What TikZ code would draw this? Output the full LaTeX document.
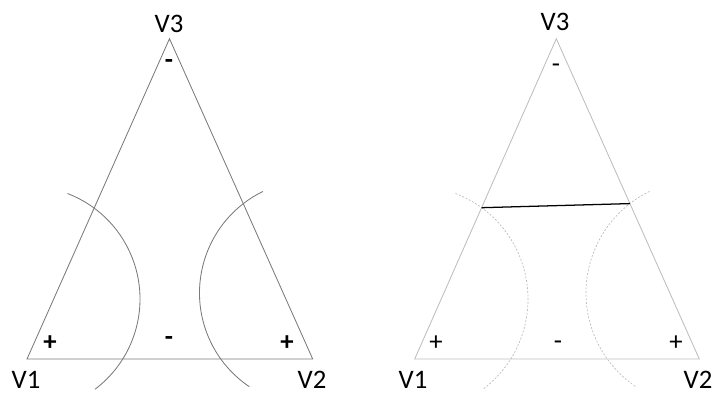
\documentclass[tikz,border=0pt]{standalone}
\usepackage{fontspec}
\setmainfont{Carlito}
\usetikzlibrary{positioning}
\definecolor{EdgeDark}{HTML}{7A7A7A}
\definecolor{EdgeLight}{HTML}{BDBDBD}

\begin{document}
\begin{tikzpicture}[
  x=0.025cm,y=-0.025cm,
  font=\fontsize{19}{22}\selectfont,
  lbl/.style={inner sep=0pt},
  sgn/.style={inner sep=0pt,font=\fontsize{19}{22}\selectfont\bfseries},
  sgnl/.style={inner sep=0pt},
  side/.style={draw=EdgeDark,line width=0.6pt},
  sidel/.style={draw=EdgeLight,line width=0.6pt},
  bow/.style={draw=EdgeDark,line width=0.6pt},
  bowl/.style={draw=EdgeLight,line width=0.5pt,dash pattern=on 1.4pt off 1.2pt},
  cut/.style={draw=black,line width=0.9pt},
]
\useasboundingbox (0,0) rectangle (712,393);

% left triangle
\coordinate (la) at (27,359);
\coordinate (lb) at (312.7,359);
\coordinate (lc) at (169.5,38.7);
\coordinate (lca) at (27,299);
\coordinate (lcb) at (312.5,293);

\draw[side] (la) -- (lb) -- (lc) -- cycle;
\draw[bow] (lca) ++(-69:113) arc[start angle=-69,end angle=53,radius=113];
\draw[bow] (lcb) ++(244:113) arc[start angle=244,end angle=124,radius=113];

\node[lbl] (la lbl) at (26,380) {V1};
\node[lbl] (lb lbl) at (312,380) {V2};
\node[lbl] (lc lbl) at (169,24) {V3};
\node[sgn] (la sgn) at (50,343) {+};
\node[sgn] (lb sgn) at (287,343) {+};
\node[sgn] (lc sgn) at (169,64) {-};
\node[sgn] (lab sgn) at (169,341) {-};

% right triangle
\coordinate (ra) at (414.7,359);
\coordinate (rb) at (699.3,359);
\coordinate (rc) at (556.3,38.7);
\coordinate (rca) at (415,299);
\coordinate (rcb) at (699,293);
\coordinate (rp) at (481.6,207.7);
\coordinate (rq) at (629.9,203.6);

\draw[sidel] (ra) -- (rb) -- (rc) -- cycle;
\draw[bowl] (rca) ++(-69:113) arc[start angle=-69,end angle=53,radius=113];
\draw[bowl] (rcb) ++(244:113) arc[start angle=244,end angle=124,radius=113];
\draw[cut] (rp) -- (rq);

\node[lbl] (ra lbl) at (413,380) {V1};
\node[lbl] (rb lbl) at (698,380) {V2};
\node[lbl] (rc lbl) at (555,22) {V3};
\node[sgnl] (ra sgn) at (436,343) {+};
\node[sgnl] (rb sgn) at (676,343) {+};
\node[sgnl] (rc sgn) at (556,68) {-};
\node[sgnl] (rab sgn) at (558,345) {-};
\end{tikzpicture}
\end{document}
